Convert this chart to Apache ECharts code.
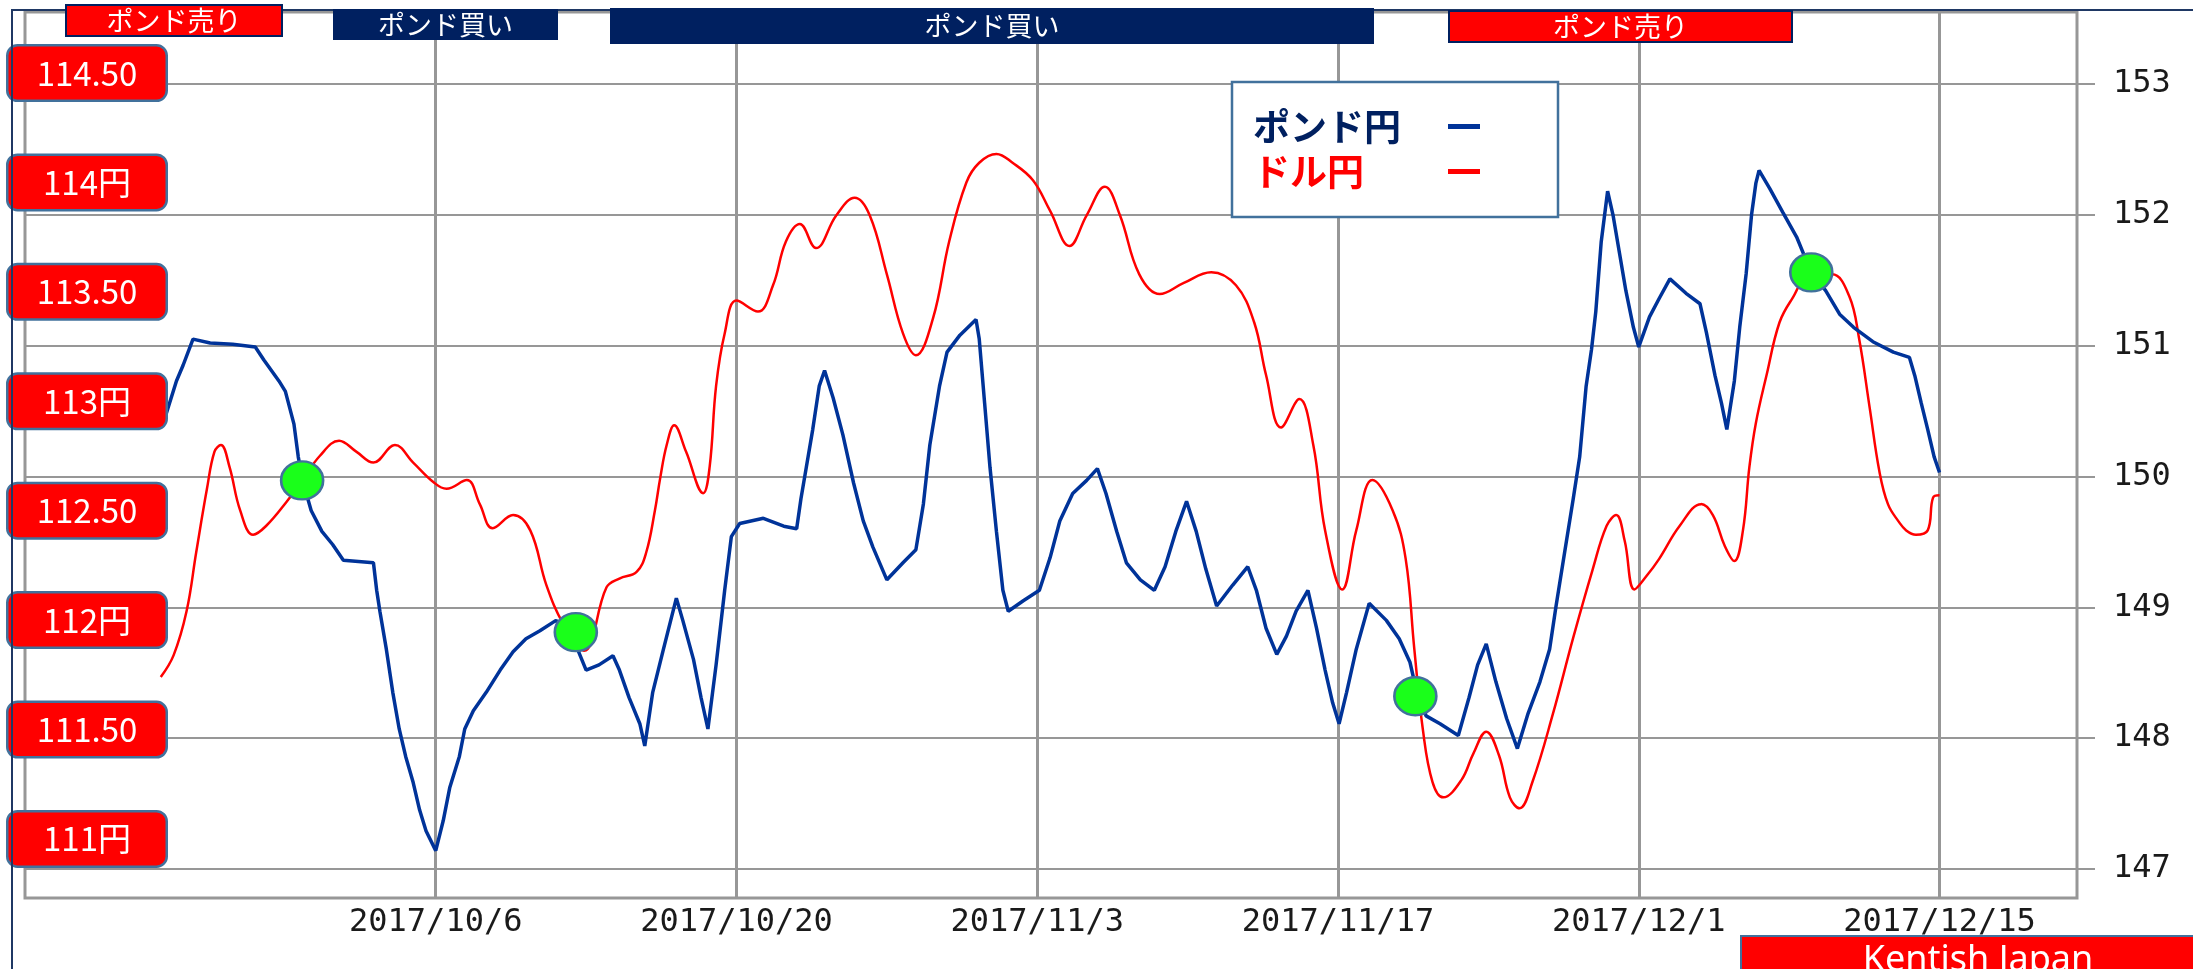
<!DOCTYPE html>
<html>
<head>
<meta charset="utf-8">
<title>ポンド円・ドル円</title>
<script src="https://cdn.jsdelivr.net/npm/echarts@6.0.0/dist/echarts.min.js"></script>
<style>
html, body { margin: 0; padding: 0; background: #fff; }
#chart { width: 2193px; height: 969px; }
</style>
</head>
<body>
<div id="chart"></div>
<script>
// x = days counted from 2017/10/6
var baseDay = Date.UTC(2017, 9, 6);
var dateTicks = [0, 14, 28, 42, 56, 70];

// left scale (ドル円) labels
var yenTicks = [111, 111.5, 112, 112.5, 113, 113.5, 114, 114.5];
var yenLabels = ['111円', '111.50', '112円', '112.50', '113円', '113.50', '114円', '114.50'];
// right scale (ポンド円)
var pondTicks = [147, 148, 149, 150, 151, 152, 153];

var pondDays = [-12.6, -12.07, -11.76, -11.3, -10.5, -9.45, -8.4, -8.0, -7.3, -7.0,
	-6.6, -6.4, -6.2, -5.8, -5.3, -4.8, -4.3, -2.9, -2.75, -2.6,
	-2.3, -2.0, -1.7, -1.4, -1.05, -0.75, -0.45, 0, 0.35, 0.65,
	1.1, 1.35, 1.75, 2.35, 3.0, 3.6, 4.2, 4.85, 5.6, 6.5,
	7.0, 7.6, 8.25, 8.55, 9.0, 9.5, 9.73, 10.1, 10.6, 11.2,
	11.5, 12.0, 12.35, 12.67, 13.05, 13.45, 13.76, 14.15, 15.25, 16.2,
	16.8, 17.0, 17.25, 17.55, 17.85, 18.1, 18.5, 18.95, 19.45, 19.9,
	20.35, 21.0, 21.75, 22.35, 22.7, 23.0, 23.45, 23.8, 24.4, 25.15,
	25.3, 25.55, 25.8, 26.1, 26.4, 26.65, 27.35, 28.1, 28.6, 29.05,
	29.65, 30.3, 30.8, 31.2, 31.7, 32.15, 32.8, 33.45, 33.95, 34.45,
	34.95, 35.4, 35.85, 36.35, 37.1, 37.8, 38.2, 38.65, 39.15, 39.6,
	40.05, 40.6, 41.0, 41.4, 41.75, 42.05, 42.4, 42.85, 43.45, 44.25,
	44.85, 45.35, 45.6, 46.1, 46.75, 47.6, 48.1, 48.5, 48.9, 49.35,
	49.85, 50.35, 50.85, 51.4, 51.85, 52.15, 52.55, 52.95, 53.25, 53.55,
	53.8, 54.0, 54.25, 54.55, 54.8, 55.1, 55.4, 55.75, 56.0, 56.5,
	56.95, 57.45, 58.2, 58.85, 59.15, 59.55, 59.85, 60.1, 60.45, 60.7,
	61.0, 61.25, 61.45, 61.6, 62.1, 62.7, 63.35, 64.0, 64.7, 65.35,
	66.0, 66.9, 67.85, 68.6, 68.85, 69.15, 69.45, 69.75, 70.0];
var pond = [150.45, 150.73, 150.85, 151.05, 151.02, 151.01, 150.99, 150.89, 150.73, 150.65,
	150.40, 150.15, 149.97, 149.74, 149.58, 149.48, 149.36, 149.34, 149.13, 148.97,
	148.68, 148.35, 148.07, 147.86, 147.66, 147.45, 147.29, 147.14, 147.37, 147.62,
	147.86, 148.07, 148.21, 148.35, 148.52, 148.66, 148.76, 148.82, 148.90, 148.72,
	148.52, 148.56, 148.63, 148.52, 148.31, 148.11, 147.94, 148.35, 148.68, 149.07,
	148.90, 148.60, 148.31, 148.07, 148.56, 149.13, 149.54, 149.64, 149.68, 149.62,
	149.60, 149.83, 150.07, 150.36, 150.69, 150.81, 150.60, 150.32, 149.95, 149.66,
	149.46, 149.21, 149.34, 149.44, 149.79, 150.24, 150.69, 150.95, 151.08, 151.20,
	151.05, 150.56, 150.07, 149.58, 149.13, 148.97, 149.05, 149.13, 149.38, 149.66,
	149.87, 149.97, 150.06, 149.87, 149.58, 149.34, 149.21, 149.13, 149.31, 149.58,
	149.81, 149.58, 149.29, 149.01, 149.17, 149.31, 149.13, 148.84, 148.64, 148.78,
	148.97, 149.13, 148.84, 148.52, 148.27, 148.11, 148.35, 148.68, 149.03, 148.90,
	148.76, 148.58, 148.40, 148.17, 148.11, 148.02, 148.31, 148.56, 148.72, 148.43,
	148.15, 147.92, 148.19, 148.43, 148.68, 149.01, 149.42, 149.83, 150.15, 150.69,
	150.97, 151.26, 151.79, 152.18, 152.00, 151.71, 151.42, 151.14, 150.99, 151.22,
	151.36, 151.51, 151.40, 151.32, 151.10, 150.77, 150.56, 150.36, 150.73, 151.14,
	151.55, 152.00, 152.24, 152.34, 152.20, 152.02, 151.83, 151.57, 151.42, 151.24,
	151.14, 151.03, 150.95, 150.91, 150.77, 150.56, 150.36, 150.15, 150.03];

var dollarDays = [-12.8, -12.2, -11.6, -11.15, -10.65, -10.3, -10.0, -9.6, -9.1, -8.5,
	-7.9, -6.95, -6.2, -5.4, -4.5, -3.7, -2.9, -1.9, -1.05, -0.1,
	0.5, 1.45, 2.05, 2.65, 3.6, 4.4, 5.15, 5.95, 6.9, 7.95,
	8.55, 9.35, 9.8, 10.2, 10.45, 10.75, 11.1, 11.65, 12.45, 12.75,
	13.05, 13.45, 14.0, 15.0, 15.7, 16.3, 16.95, 17.7, 18.65, 19.5,
	20.2, 21.0, 21.75, 22.35, 23.15, 23.9, 24.7, 25.3, 26.1, 26.85,
	27.8, 28.6, 29.5, 30.3, 31.15, 31.85, 32.75, 33.7, 34.8, 36.1,
	37.25, 38.1, 38.65, 39.35, 40.2, 40.85, 41.4, 42.2, 42.85, 43.6,
	44.55, 45.15, 45.55, 45.95, 46.4, 46.9, 47.75, 48.3, 48.9, 49.5,
	50.0, 50.45, 51.05, 52.0, 52.95, 53.85, 54.5, 54.95, 55.35, 55.8,
	56.35, 56.95, 57.9, 58.9, 59.45, 60.0, 60.45, 60.85, 61.15, 61.45,
	61.95, 62.55, 63.15, 64.0, 65.0, 65.8, 66.25, 66.75, 67.2, 67.6,
	68.1, 68.45, 68.9, 69.45, 69.7, 70.0];
var dollar = [111.74, 111.84, 112.04, 112.31, 112.60, 112.77, 112.80, 112.70, 112.50, 112.39,
	112.43, 112.54, 112.64, 112.75, 112.82, 112.77, 112.72, 112.80, 112.72, 112.63,
	112.60, 112.64, 112.53, 112.42, 112.48, 112.41, 112.16, 111.98, 111.86, 112.15,
	112.19, 112.22, 112.31, 112.50, 112.65, 112.80, 112.89, 112.77, 112.58, 112.70,
	113.07, 113.31, 113.46, 113.41, 113.53, 113.73, 113.81, 113.70, 113.85, 113.93,
	113.85, 113.58, 113.31, 113.21, 113.38, 113.73, 114.00, 114.09, 114.13, 114.09,
	114.01, 113.87, 113.71, 113.85, 113.98, 113.85, 113.58, 113.49, 113.54, 113.59,
	113.53, 113.36, 113.12, 112.88, 113.01, 112.80, 112.41, 112.14, 112.41, 112.64,
	112.50, 112.28, 111.87, 111.50, 111.26, 111.19, 111.27, 111.39, 111.49, 111.38,
	111.19, 111.14, 111.26, 111.57, 111.92, 112.23, 112.43, 112.48, 112.36, 112.14,
	112.20, 112.28, 112.43, 112.53, 112.48, 112.34, 112.27, 112.41, 112.70, 112.90,
	113.12, 113.36, 113.47, 113.58, 113.58, 113.48, 113.29, 112.97, 112.68, 112.53,
	112.45, 112.41, 112.39, 112.41, 112.56, 112.57];

// green markers where the two lines cross (on the ポンド円 scale)
var crossDays = [-6.22, 6.52, 45.6, 64.03];
var crossVals = [149.97, 148.81, 148.32, 151.56];

var gridColor = '#979797';
var navy = '#002060';

function pairs(xs, ys) {
	var out = [];
	for (var i = 0; i < xs.length; i++) {
		out.push([xs[i], ys[i]]);
	}
	return out;
}

function dayLabel(d) {
	var t = new Date(baseDay + d * 86400000);
	return t.getUTCFullYear() + '/' + (t.getUTCMonth() + 1) + '/' + t.getUTCDate();
}

function banner(x, y, w, h, fill, label) {
	return [
		{ type: 'rect', z: 100, shape: { x: x, y: y, width: w, height: h },
			style: { fill: fill, stroke: navy, lineWidth: 2 } },
		{ type: 'text', z: 101, x: x + w / 2, y: y + h / 2,
			style: { text: label, fill: '#fff', font: '27px "Noto Sans CJK JP"',
				align: 'center', verticalAlign: 'middle', textAlign: 'center', textVerticalAlign: 'middle' } }
	];
}

var myChart = echarts.init(document.getElementById('chart'));

var graphics = [
	// navy slide frame
	{ type: 'rect', z: 90, shape: { x: 12, y: 10, width: 2400, height: 1200 },
		style: { fill: null, stroke: '#1F3864', lineWidth: 2 } }
];
graphics = graphics.concat(
	banner(66, 5, 216, 31, '#FF0000', 'ポンド売り'),
	banner(334, 10, 223, 29, navy, 'ポンド買い'),
	banner(611, 9, 762, 34, navy, 'ポンド買い'),
	banner(1449, 11, 343, 31, '#FF0000', 'ポンド売り')
);
graphics.push(
	{ type: 'rect', z: 100, shape: { x: 1741, y: 936, width: 470, height: 60 },
		style: { fill: '#FF0000', stroke: '#41719C', lineWidth: 2 } },
	{ type: 'text', z: 101, x: 1978, y: 961,
		style: { text: 'Kentish Japan', fill: '#fff', font: '36px "Noto Sans"',
			align: 'center', verticalAlign: 'middle', textAlign: 'center', textVerticalAlign: 'middle' } }
);

var option = {
	backgroundColor: '#fff',
	animation: false,
	grid: {
		left: 25, top: 12, right: 116, bottom: 71,
		show: true, borderColor: gridColor, borderWidth: 3,
		containLabel: false, outerBoundsMode: 'none'
	},
	legend: {
		orient: 'vertical',
		left: 1232, top: 82,
		align: 'right',
		padding: [26, 78, 27, 21],
		backgroundColor: '#fff',
		borderColor: '#41719C', borderWidth: 2.5, borderRadius: 0,
		itemWidth: 32, itemHeight: 5, itemGap: 8,
		icon: 'rect',
		formatter: '{t|{name}}',
		textStyle: {
			fontSize: 37, fontWeight: 'bold', fontFamily: 'Noto Sans CJK JP',
			rich: { t: { width: 190, align: 'left', fontSize: 37, fontWeight: 'bold', lineHeight: 45, fontFamily: 'Noto Sans CJK JP' } }
		},
		data: [
			{ name: 'ポンド円', textStyle: { color: navy } },
			{ name: 'ドル円', textStyle: { color: '#FF0000' } }
		]
	},
	xAxis: {
		type: 'value',
		min: -19.12, max: 76.4,
		axisLine: { show: false },
		axisTick: { show: false, customValues: dateTicks },
		splitLine: { show: true, lineStyle: { color: gridColor, width: 3 } },
		axisLabel: {
			customValues: dateTicks,
			formatter: dayLabel,
			margin: 9,
			color: '#1a1a1a', fontSize: 32, fontFamily: 'DejaVu Sans Mono'
		}
	},
	yAxis: [
		{
			type: 'value', position: 'left',
			min: 110.730, max: 114.779,
			z: 5,
			axisLine: { show: false },
			axisTick: { show: false },
			splitLine: { show: false },
			axisLabel: {
				customValues: yenTicks,
				formatter: function (v) {
					var i = yenTicks.indexOf(v);
					return i < 0 ? '' : yenLabels[i];
				},
				margin: -62,
				align: 'center', verticalAlign: 'middle',
				color: '#fff', fontSize: 33, fontFamily: 'Noto Sans CJK JP',
				backgroundColor: '#FF0000', borderColor: '#41719C', borderWidth: 2.5, borderRadius: 9,
				width: 157, height: 53, lineHeight: 53
			}
		},
		{
			type: 'value', position: 'right',
			min: 146.778, max: 153.550,
			axisLine: { show: false },
			axisTick: { show: true, customValues: pondTicks, length: 18, lineStyle: { color: gridColor, width: 2 } },
			splitLine: { show: true, lineStyle: { color: gridColor, width: 2 } },
			axisLabel: {
				customValues: pondTicks,
				margin: 36,
				color: '#1a1a1a', fontSize: 32, fontFamily: 'DejaVu Sans Mono'
			}
		}
	],
	series: [
		{
			name: 'ポンド円', type: 'line', yAxisIndex: 1,
			data: pairs(pondDays, pond),
			showSymbol: false, symbol: 'none',
			color: '#003399',
			lineStyle: { color: '#003399', width: 3.5 },
			z: 3
		},
		{
			name: 'ドル円', type: 'line', yAxisIndex: 0,
			data: pairs(dollarDays, dollar),
			showSymbol: false, symbol: 'none',
			smooth: 0.4,
			color: '#FF0000',
			lineStyle: { color: '#FF0000', width: 2.5 },
			z: 2
		},
		{
			name: 'cross', type: 'scatter', yAxisIndex: 1,
			data: pairs(crossDays, crossVals),
			symbol: 'circle', symbolSize: [42, 38],
			itemStyle: { color: '#1AFF1A', borderColor: '#41719C', borderWidth: 2.5, opacity: 1 },
			z: 4
		}
	],
	graphic: graphics
};

myChart.setOption(option);
</script>
</body>
</html>
